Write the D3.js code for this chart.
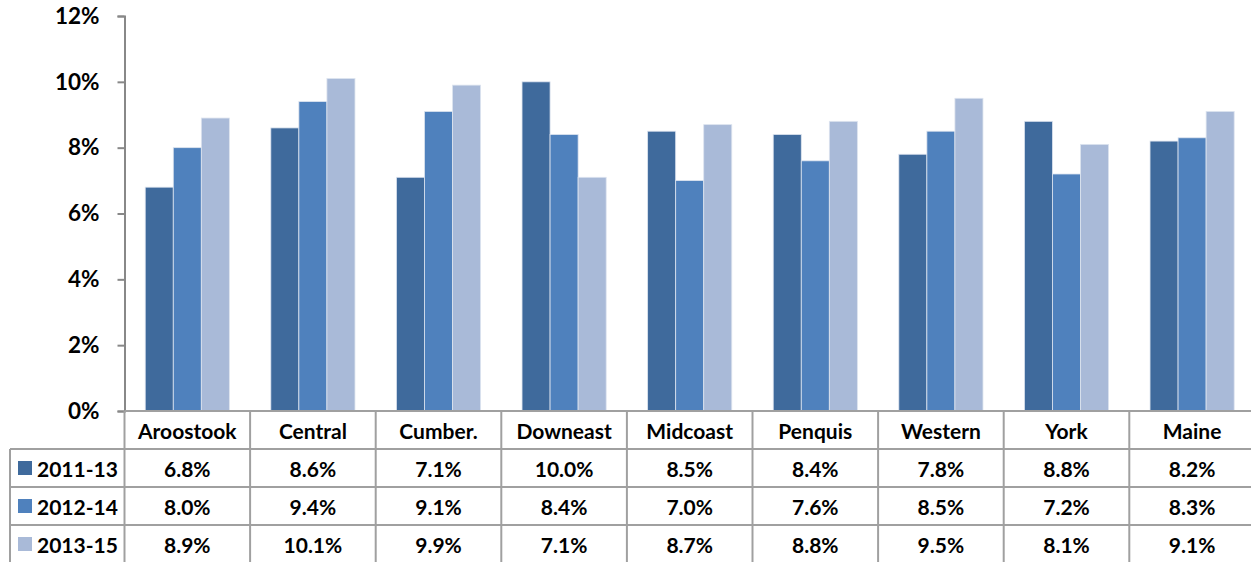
<!DOCTYPE html>
<html><head><meta charset="utf-8">
<script src="https://cdn.jsdelivr.net/npm/d3@7/dist/d3.min.js"></script>
<style>body{margin:0;background:#fff}svg{display:block}text{font-family:Lato,"Open Sans",sans-serif;font-weight:bold;fill:#000}</style>
</head><body><svg id="c" width="1251" height="562"></svg>
<script>
const categories = ["Aroostook","Central","Cumber.","Downeast","Midcoast","Penquis","Western","York","Maine"];
const seriesNames = ["2011-13","2012-14","2013-15"];
const s2011 = [6.8,8.6,7.1,10.0,8.5,8.4,7.8,8.8,8.2];
const s2012 = [8.0,9.4,9.1,8.4,7.0,7.6,8.5,7.2,8.3];
const s2013 = [8.9,10.1,9.9,7.1,8.7,8.8,9.5,8.1,9.1];
const yTicks = [0,2,4,6,8,10,12];
const colors = ["#3F6A9C","#4F81BD","#A9BAD8"];
const series = [s2011,s2012,s2013];

const svg = d3.select("#c");
const x0 = 124.5, colW = 125.6, plotTop = 16, base = 411;
const x = d3.scaleBand().domain(categories).range([x0, x0 + colW*categories.length]).padding(0);
const groupW = x.bandwidth()*0.67;
const inner = d3.scaleBand().domain(seriesNames)
  .range([(x.bandwidth()-groupW)/2, (x.bandwidth()+groupW)/2]).padding(0);
const y = d3.scaleLinear().domain([0,12]).range([base, plotTop]);

// bars
series.forEach((vals,si)=>{
  svg.append("g").selectAll("rect").data(vals).join("rect")
    .attr("x",(d,i)=>x(categories[i])+inner(seriesNames[si]))
    .attr("width",inner.bandwidth())
    .attr("y",d=>y(d)).attr("height",d=>base-y(d))
    .attr("fill",colors[si]).attr("stroke","#dde4ef").attr("stroke-width",0.8);
});

// y axis
const ax = svg.append("g").attr("transform",`translate(${x0},0)`)
  .call(d3.axisLeft(y).tickValues(yTicks).tickFormat(d=>d+"%").tickSize(7).tickSizeOuter(7));
ax.select(".domain").attr("stroke","#888").attr("stroke-width",2);
ax.selectAll(".tick line").attr("stroke","#888").attr("stroke-width",2);
ax.selectAll(".tick text").attr("x",-25).attr("font-size",22.5).attr("font-family","Lato").attr("font-weight","bold").attr("fill","#000");

// table
const rowH = 38;
const rows = [449, 487, 525];
const g = svg.append("g");
const lineC = "#a0a0a0";
const fs = 21;
categories.forEach((c,i)=>{
  g.append("text").attr("x",x(c)+colW/2).attr("y",430).attr("text-anchor","middle").attr("dominant-baseline","central").attr("font-size",fs).text(c);
});
series.forEach((vals,si)=>{
  const cy = rows[si]+rowH/2;
  g.append("rect").attr("x",18).attr("y",cy-7).attr("width",14).attr("height",14).attr("fill",colors[si]);
  g.append("text").attr("x",37).attr("y",cy).attr("dominant-baseline","central").attr("font-size",fs).text(seriesNames[si]);
  vals.forEach((v,i)=>{
    g.append("text").attr("x",x(categories[i])+colW/2).attr("y",cy).attr("text-anchor","middle").attr("dominant-baseline","central").attr("font-size",fs).text(v.toFixed(1)+"%");
  });
});
const right = x0 + colW*categories.length;
g.append("line").attr("x1",x0).attr("x2",right).attr("y1",base).attr("y2",base);
rows.forEach(r=>g.append("line").attr("x1",10).attr("x2",right).attr("y1",r).attr("y2",r));
g.append("line").attr("x1",10).attr("x2",right).attr("y1",563).attr("y2",563);
g.append("line").attr("x1",10).attr("x2",10).attr("y1",449).attr("y2",563);
categories.forEach((c,i)=>g.append("line").attr("x1",x(c)).attr("x2",x(c)).attr("y1",base).attr("y2",563));
g.append("line").attr("x1",right).attr("x2",right).attr("y1",base).attr("y2",563);
g.selectAll("line").attr("stroke",lineC).attr("stroke-width",2);
</script></body></html>
